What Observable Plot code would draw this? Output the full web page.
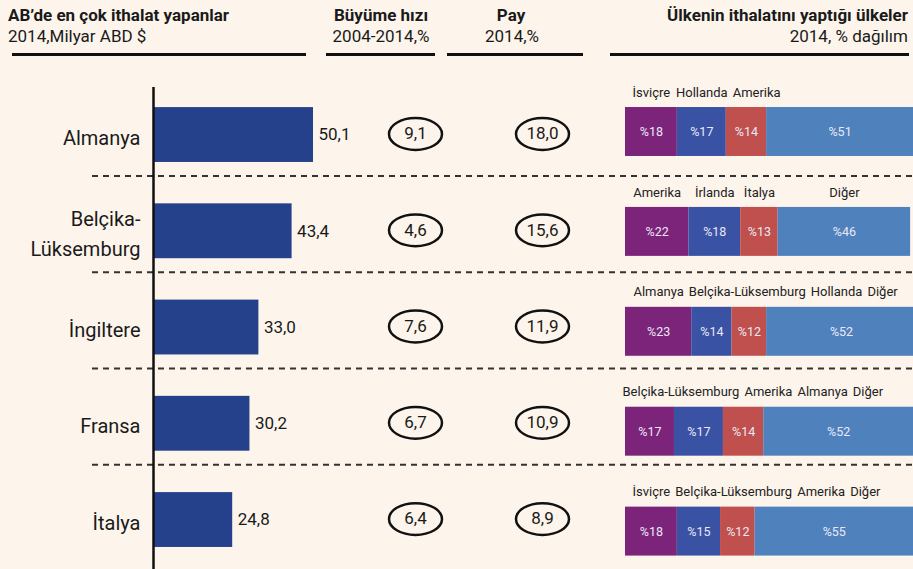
<!DOCTYPE html>
<html><head><meta charset="utf-8">
<script src="https://cdn.jsdelivr.net/npm/d3@7"></script>
<script src="https://cdn.jsdelivr.net/npm/@observablehq/plot@0.6"></script>
<style>
html,body{margin:0;padding:0;background:#fdf5ec;}
#chart{position:relative;width:913px;height:569px;overflow:hidden;font-family:Roboto,sans-serif;color:#1a1a1a;background:#fdf5ec;}
.layer{position:absolute;left:0;top:70px;width:913px;height:499px;}
.layer svg{display:block;}
.hd{position:absolute;white-space:nowrap;line-height:1;}
.t{font-weight:700;font-size:17px;}
.s{font-size:17px;}
.c{transform:translateX(-50%);}
.ul{position:absolute;height:3px;background:#111;top:53px;}
</style></head><body>
<div id="chart">
  <div class="hd t" style="left:8px;top:7px">AB’de en çok ithalat yapanlar</div>
  <div class="hd s" style="left:8px;top:28px">2014,Milyar ABD $</div>
  <div class="ul" style="left:12px;width:294px"></div>
  <div class="hd t c" style="left:381px;top:7px">Büyüme hızı</div>
  <div class="hd s c" style="left:381px;top:28px">2004-2014,%</div>
  <div class="ul" style="left:326px;width:109px"></div>
  <div class="hd t c" style="left:511px;top:7px">Pay</div>
  <div class="hd s c" style="left:512px;top:28px">2014,%</div>
  <div class="ul" style="left:447px;width:136px"></div>
  <div class="hd t" style="right:5px;top:7px">Ülkenin ithalatını yaptığı ülkeler</div>
  <div class="hd s" style="right:5px;top:28px">2014, % dağılım</div>
  <div class="ul" style="left:610px;width:299px"></div>
</div>
<script>
// ---- data ----
const countries = ["Almanya", "Belçika-Lüksemburg", "İngiltere", "Fransa", "İtalya"];
const imports = [50.1, 43.4, 33.0, 30.2, 24.8];          // 2014, milyar ABD $
const growth = [9.1, 4.6, 7.6, 6.7, 6.4];                // büyüme hızı 2004-2014, %
const share = [18.0, 15.6, 11.9, 10.9, 8.9];             // pay 2014, %
const partners = [
  ["İsviçre", "Hollanda", "Amerika", ""],
  ["Amerika", "İrlanda", "İtalya", "Diğer"],
  ["Almanya", "Belçika-Lüksemburg", "Hollanda", "Diğer"],
  ["Belçika-Lüksemburg", "Amerika", "Almanya", "Diğer"],
  ["İsviçre", "Belçika-Lüksemburg", "Amerika", "Diğer"]
];
const partnerShares = [
  [18, 17, 14, 51],
  [22, 18, 13, 46],
  [23, 14, 12, 52],
  [17, 17, 14, 52],
  [18, 15, 12, 55]
];

// ---- build tables ----
const fmt = v => v.toFixed(1).replace(".", ",");
const rows = countries.map((c, i) => ({country: c, imports: imports[i]}));
const ovalRows = countries.flatMap((c, i) => [
  {country: c, col: "g", v: growth[i]},
  {country: c, col: "s", v: share[i]}
]);

const stackLeft = 625, stackRight = 913;
const pxPer = (stackRight - stackLeft) / 100;
const labelFont = 13;
const ctx = document.createElement("canvas").getContext("2d");
ctx.font = labelFont + "px Roboto";
const segs = [];
countries.forEach((c, i) => {
  let acc = 0, prevEnd = -Infinity;
  partnerShares[i].forEach((v, j) => {
    const start = acc, end = acc + v; acc = end;
    const mid = (start + end) / 2;
    const name = partners[i][j];
    let lx = mid;
    if (name) {
      const w = ctx.measureText(name).width;
      let s = Math.max(mid * pxPer - w / 2, prevEnd + 5, -3);
      prevEnd = s + w;
      lx = (s + w / 2) / pxPer;
    }
    segs.push({country: c, k: j, start, end, mid, v, name, lx});
  });
});

// ---- scales ----
const step = 96.25;
const yMain = {domain: countries, range: [16.4, 16.4 + 5 * step], paddingInner: 0.43, paddingOuter: 0.215, align: 0.5, round: false, axis: null};
const step2 = 99.9;
const yStack = {domain: countries, range: [61.5 - step2 / 2, 61.5 - step2 / 2 + 5 * step2], paddingInner: 0.51, paddingOuter: 0.255, align: 0.5, round: false, axis: null};
const bw2 = step2 * 0.49;

const base = {width: 913, height: 499, marginTop: 17, marginBottom: 0, marginLeft: 0, marginRight: 0,
  style: {background: "transparent", fontFamily: "Roboto, sans-serif", overflow: "visible"}};

const ellipse = {
  draw(c, size) {
    const rx = Math.sqrt(size / Math.PI), ry = rx * 0.6, k = 0.5523;
    c.moveTo(rx, 0);
    c.bezierCurveTo(rx, ry * k, rx * k, ry, 0, ry);
    c.bezierCurveTo(-rx * k, ry, -rx, ry * k, -rx, 0);
    c.bezierCurveTo(-rx, -ry * k, -rx * k, -ry, 0, -ry);
    c.bezierCurveTo(rx * k, -ry, rx, -ry * k, rx, 0);
    c.closePath();
  }
};

const plots = [
  // separators
  Plot.plot({...base, marginLeft: 92,
    x: {domain: [0, 1], axis: null}, y: yMain,
    marks: [
      Plot.ruleY(countries.slice(0, -1), {y: d => d, dy: 41, stroke: "#333", strokeWidth: 2, strokeDasharray: "6,5"})
    ]}),
  // imports bars
  Plot.plot({...base,
    x: {domain: [0, 50.1], range: [153, 313], axis: null}, y: yMain,
    marks: [
      Plot.barX(rows, {x: "imports", y: "country", fill: "#26418c"}),
      Plot.ruleX([0], {stroke: "#111", strokeWidth: 2.5}),
      Plot.text(rows, {x: 0, y: "country", text: d => d.country.replace("-", "-\n"), textAnchor: "end", dx: -13, fontSize: 20, lineHeight: 1.5, fill: "#1a1a1a"}),
      Plot.text(rows, {x: "imports", y: "country", text: d => fmt(d.imports), textAnchor: "start", dx: 5, fontSize: 17, fill: "#1a1a1a"})
    ]}),
  // ovals
  Plot.plot({...base,
    x: {type: "point", domain: ["g", "s"], range: [415, 542], padding: 0, axis: null}, y: yMain,
    marks: [
      Plot.dot(ovalRows, {x: "col", y: "country", r: 26.5, symbol: ellipse, stroke: "#111", strokeWidth: 2.5, fill: "none", dy: -1}),
      Plot.text(ovalRows, {x: "col", y: "country", text: d => fmt(d.v), fontSize: 17, fill: "#1a1a1a", dy: -1})
    ]}),
  // stacked partner shares
  Plot.plot({...base,
    x: {domain: [0, 100], range: [stackLeft, stackRight], axis: null}, y: yStack,
    color: {domain: [0, 1, 2, 3], range: ["#7b2479", "#3a52a3", "#c0504d", "#4f81bd"]},
    marks: [
      Plot.barX(segs, {x1: "start", x2: "end", y: "country", fill: "k"}),
      Plot.text(segs, {x: "mid", y: "country", text: d => "%" + d.v, fill: "#ebe8f6", fontSize: 12.5}),
      Plot.text(segs.filter(d => d.name), {x: "lx", y: "country", text: "name", fill: "#222", fontSize: labelFont, dy: -(bw2 / 2 + 15)})
    ]})
];

const chart = document.getElementById("chart");
plots.forEach(p => {
  const d = document.createElement("div");
  d.className = "layer";
  d.appendChild(p);
  chart.appendChild(d);
});
</script>
</body></html>
